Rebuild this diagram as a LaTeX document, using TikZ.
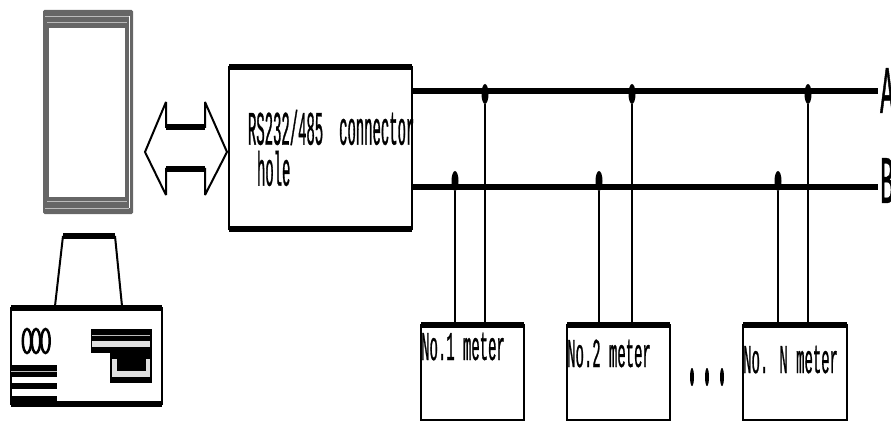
\documentclass[tikz,border=0pt]{standalone}
\usepackage{fontspec}
\usepackage{tikz}
\usetikzlibrary{positioning,calc,shapes.geometric}
\newfontfamily\boxfont[FakeStretch=.29,FakeBold=.6]{Liberation Mono}
\newfontfamily\meterfont[FakeStretch=.34,FakeBold=.6]{Liberation Mono}
\newfontfamily\busfont[FakeStretch=.34,FakeBold=.6]{Liberation Mono}
\definecolor{screengray}{HTML}{666666}
\definecolor{screenline}{HTML}{BBBBBB}
\definecolor{slotgray}{HTML}{E0E0E0}

\begin{document}
\begin{tikzpicture}[
  x=1pt,y=-1pt,
  boxnode/.style={draw,line width=2pt,outer sep=0pt,inner sep=0pt},
  heavy/.style={line width=6pt},
  wire/.style={line width=2pt},
  bus/.style={line width=6pt},
  junct/.style={ellipse,fill=black,inner sep=0pt,minimum width=7pt,minimum height=20pt},
  lbl/.style={anchor=base west,inner sep=0pt,font=\meterfont\fontsize{41pt}{41pt}\selectfont},
  knob/.style={draw,ellipse,line width=2.5pt,inner sep=0pt,minimum width=8.5pt,minimum height=24pt},
  ellips/.style={ellipse,fill=black,inner sep=0pt,minimum width=4pt,minimum height=18pt},
  busname/.style={anchor=base west,inner sep=0pt,font=\busfont\fontsize{68pt}{68pt}\selectfont},
]
\useasboundingbox (0,0) rectangle (891,422);
% screen
\node[fill=screengray,rounded corners=1.5pt,minimum width=90pt,minimum height=204pt,inner sep=0pt] (screen) at (88,112) {};
\node[fill=white,minimum width=76pt,minimum height=169pt,inner sep=0pt] (glass) at (87,112.5) {};
\draw[screenline,line width=.7pt] (45,16.5) -- (129,16.5) (47,22.5) -- (127,22.5) (47,201.5) -- (127,201.5) (45,208) -- (129,208);
\draw[white,line width=1.6pt] (129.5,16) -- (129.5,208);
% double arrow
\draw[line width=2pt,line join=miter,miter limit=2] (145,152) -- (166,102) -- (166,127) -- (205,127) -- (205,102) -- (227,152) -- (205,195) -- (205,169) -- (166,169) -- (166,195) -- cycle;
\draw[heavy] (166,127) -- (205,127) (166,169) -- (205,169);
% connector box
\node[boxnode,minimum width=183pt,minimum height=162pt,text width=183pt,align=left,font=\boxfont\fontsize{48pt}{41pt}\selectfont] (conn) at (320.5,148)
  {\hspace*{19pt}\mbox{RS232/485 connector}\\\hspace*{28pt}hole};
\draw[heavy] (conn.north west) -- (conn.north east);
\draw[heavy] (conn.south west) -- (conn.south east);
% bus lines
\coordinate (busA) at (878,91);
\coordinate (busB) at (878,187);
\draw[bus] (conn.east |- busA) -- (busA);
\draw[bus] (conn.east |- busB) -- (busB);
\node[busname] (nameA) at (880,113) {A};
\node[busname] (nameB) at (880,203) {B};
% meters
\node[boxnode,minimum width=103pt,minimum height=95pt] (m1) at (472.5,372.5) {};
\node[boxnode,minimum width=103pt,minimum height=95pt,right=43pt of m1] (m2) {};
\node[boxnode,minimum width=104pt,minimum height=95pt,right=73pt of m2] (m3) {};
\foreach \m in {m1,m2,m3}
  \draw[heavy] (\m.north west) -- (\m.north east);
\node[lbl] (t1) at (421,360) {No.1 meter};
\node[lbl] (t2) at (567,367) {No.2 meter};
\node[lbl] (t3) at (743,373) {No. N meter};
\node[ellips] (e1) at (692,377) {};
\node[ellips] (e2) at (707,377) {};
\node[ellips] (e3) at (722,377) {};
% junctions
\foreach \m/\xb/\xa [count=\i] in {m1/455/485,m2/599/632,m3/778/808}{
  \node[junct] (jb\i) at (\xb,181) {};
  \node[junct] (ja\i) at (\xa,94) {};
  \draw[wire] (jb\i) -- (jb\i |- \m.north);
  \draw[wire] (ja\i) -- (ja\i |- \m.north);
}
% printer
\node[boxnode,minimum width=151pt,minimum height=96pt] (base) at (86.5,356) {};
\draw[heavy] (base.north west) -- (base.north east);
\draw[heavy] (base.south west) -- (base.south east);
\coordinate (hoodL) at (55,306);
\coordinate (hoodR) at (122,306);
\coordinate (topL) at (63,236);
\coordinate (topR) at (115,236);
\draw[wire] (hoodL) -- (topL);
\draw[wire] (hoodR) -- (topR);
\draw[heavy] (topL) -- (topR);
\node[knob] (k1) at (27,341) {};
\node[knob] (k2) at (36,341) {};
\node[knob] (k3) at (45.5,341) {};
\fill (91,329) rectangle (152,353);
\draw[screenline,line width=.6pt] (92,335) -- (150,335);
\fill[slotgray] (92,341) rectangle (150,347);
\draw[screenline,line width=.6pt] (110,353) -- (152,353);
\fill (110,353.3) rectangle (152,383);
\fill[slotgray] (112,359) rectangle (150,377);
\fill (117,355) rectangle (146,371);
\fill (11,365) rectangle (57,377);
\draw[screenline,line width=.6pt] (11,371.5) -- (57,371.5);
\fill (11,383) rectangle (57,389);
\fill (11,396) rectangle (57,404);
\end{tikzpicture}
\end{document}
